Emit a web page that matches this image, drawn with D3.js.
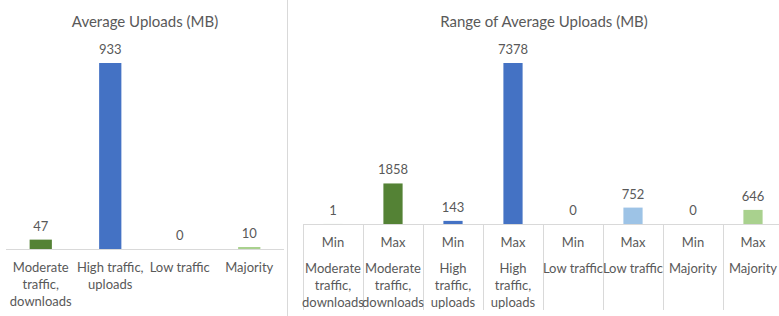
<!DOCTYPE html>
<html>
<head>
<meta charset="utf-8">
<script src="https://cdn.jsdelivr.net/npm/d3@7"></script>
<style>
  body { margin: 0; background: #fff; }
  svg text { font-family: Lato, "Open Sans", sans-serif; fill: #595959; }
</style>
</head>
<body>
<svg id="chart" width="779" height="316"></svg>
<script>
// left chart: averages
const avgCategories = ['Moderate traffic, downloads', 'High traffic, uploads', 'Low traffic', 'Majority'];
const avgLabelLines = [['Moderate', 'traffic,', 'downloads'], ['High traffic,', 'uploads'], ['Low traffic'], ['Majority']];
const avgValues = [47, 933, 0, 10];

// right chart: min / max per category
const rangeCategories = ['Moderate traffic, downloads', 'High traffic, uploads', 'Low traffic', 'Majority'];
const rangeLabelLines = [['Moderate', 'traffic,', 'downloads'], ['High', 'traffic,', 'uploads'], ['Low traffic'], ['Majority']];
const rangeKinds = ['Min', 'Max'];
const rangeMin = [1, 143, 0, 0];
const rangeMax = [1858, 7378, 752, 646];

const colors = ['#548235', '#4472C4', '#9DC3E6', '#A9D18E'];
const gridColor = '#d9d9d9';

const svg = d3.select('#chart');

// ---------- left ----------
const left = svg.append('g');
const x1 = d3.scaleBand().domain(avgCategories).range([6, 284]).padding(0);
const y1 = d3.scaleLinear().domain([0, 933]).range([249, 63]);
const bw1 = x1.bandwidth() * 0.32;

left.append('text')
    .attr('x', 145).attr('y', 27)
    .attr('text-anchor', 'middle')
    .style('font-size', '15px')
    .text('Average Uploads (MB)');

left.selectAll('.bar')
    .data(avgCategories)
    .enter().append('rect')
    .attr('x', d => x1(d) + (x1.bandwidth() - bw1) / 2)
    .attr('y', (d, i) => y1(avgValues[i]))
    .attr('width', bw1)
    .attr('height', (d, i) => y1(0) - y1(avgValues[i]))
    .attr('fill', (d, i) => colors[i]);

left.selectAll('.val')
    .data(avgCategories)
    .enter().append('text')
    .attr('x', d => x1(d) + x1.bandwidth() / 2)
    .attr('y', (d, i) => y1(avgValues[i]) - 9)
    .attr('text-anchor', 'middle')
    .style('font-size', '13px')
    .text((d, i) => avgValues[i]);

left.append('line')
    .attr('x1', 6).attr('x2', 284)
    .attr('y1', y1(0) + 0.5).attr('y2', y1(0) + 0.5)
    .attr('stroke', gridColor);

avgCategories.forEach((c, i) => {
    avgLabelLines[i].forEach((line, j) => {
        left.append('text')
            .attr('x', x1(c) + x1.bandwidth() / 2)
            .attr('y', 272 + j * 17)
            .attr('text-anchor', 'middle')
            .style('font-size', '13px')
            .text(line);
    });
});

// separator
svg.append('line')
    .attr('x1', 287.5).attr('x2', 287.5)
    .attr('y1', 0).attr('y2', 316)
    .attr('stroke', gridColor);

// ---------- right ----------
const right = svg.append('g');
const rangeData = [];
rangeCategories.forEach((c, i) => {
    rangeData.push({ key: c + '|Min', kind: rangeKinds[0], cat: i, value: rangeMin[i] });
    rangeData.push({ key: c + '|Max', kind: rangeKinds[1], cat: i, value: rangeMax[i] });
});

const x2 = d3.scaleBand().domain(rangeData.map(d => d.key)).range([303, 783]).padding(0);
const y2 = d3.scaleLinear().domain([0, 7378]).range([224, 63]);
const bw2 = x2.bandwidth() * 0.32;

right.append('text')
    .attr('x', 544).attr('y', 27)
    .attr('text-anchor', 'middle')
    .style('font-size', '15px')
    .text('Range of Average Uploads (MB)');

right.selectAll('.bar')
    .data(rangeData)
    .enter().append('rect')
    .attr('x', d => x2(d.key) + (x2.bandwidth() - bw2) / 2)
    .attr('y', d => y2(d.value))
    .attr('width', bw2)
    .attr('height', d => y2(0) - y2(d.value))
    .attr('fill', d => colors[d.cat]);

right.selectAll('.val')
    .data(rangeData)
    .enter().append('text')
    .attr('x', d => x2(d.key) + x2.bandwidth() / 2)
    .attr('y', d => y2(d.value) - 9)
    .attr('text-anchor', 'middle')
    .style('font-size', '13px')
    .text(d => d.value);

right.append('line')
    .attr('x1', 303).attr('x2', 783)
    .attr('y1', y2(0) + 0.5).attr('y2', y2(0) + 0.5)
    .attr('stroke', gridColor);

// cell dividers
right.selectAll('.div')
    .data(rangeData)
    .enter().append('line')
    .attr('x1', d => Math.round(x2(d.key)) + 0.5)
    .attr('x2', d => Math.round(x2(d.key)) + 0.5)
    .attr('y1', y2(0)).attr('y2', 310)
    .attr('stroke', gridColor);

rangeData.forEach(d => {
    const cx = x2(d.key) + x2.bandwidth() / 2;
    right.append('text')
        .attr('x', cx).attr('y', 247)
        .attr('text-anchor', 'middle')
        .style('font-size', '13px')
        .text(d.kind);
    rangeLabelLines[d.cat].forEach((line, j) => {
        right.append('text')
            .attr('x', cx)
            .attr('y', 273 + j * 17)
            .attr('text-anchor', 'middle')
            .style('font-size', '13px')
            .text(line);
    });
});
</script>
</body>
</html>
